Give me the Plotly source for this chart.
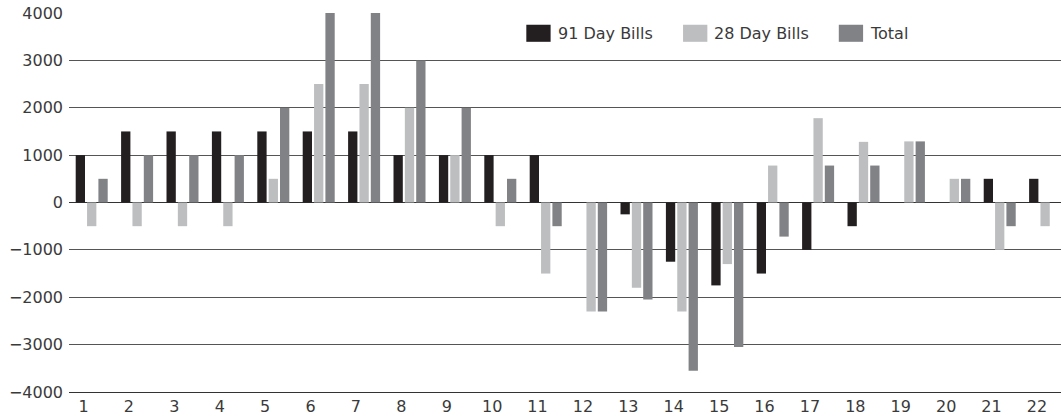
import plotly.graph_objects as go

periods = list(range(1, 23))
tick_labels = [str(p) for p in periods]
bills_91 = [1000, 1500, 1500, 1500, 1500, 1500, 1500, 1000, 1000, 1000, 1000,
            0, -250, -1250, -1750, -1500, -1000, -500, 0, 0, 500, 500]
bills_28 = [-500, -500, -500, -500, 500, 2500, 2500, 2000, 1000, -500, -1500,
            -2300, -1800, -2300, -1300, 780, 1780, 1280, 1290, 500, -1000, -500]
total = [500, 1000, 1000, 1000, 2000, 4000, 4000, 3000, 2000, 500, -500,
         -2300, -2050, -3550, -3050, -720, 780, 780, 1290, 500, -500, 0]

series_names = ["91 Day Bills", "28 Day Bills", "Total"]
series_values = [bills_91, bills_28, total]
series_colors = ["#231f20", "#bcbec0", "#808285"]

FONT = "DejaVu Sans"
TEXT = "#3a3a3a"

fig = go.Figure()
for name, vals, col in zip(series_names, series_values, series_colors):
    fig.add_trace(go.Bar(x=periods, y=vals, name=name, marker_color=col,
                         marker_line_width=0, showlegend=False))

# custom legend (larger swatches like the reference)
legend_x = [0.461, 0.619, 0.776]
for name, col, lx in zip(series_names, series_colors, legend_x):
    fig.add_shape(type="rect", xref="paper", yref="paper",
                  x0=lx, x1=lx + 0.0245, y0=0.924, y1=0.969,
                  fillcolor=col, line_width=0)
    fig.add_annotation(xref="paper", yref="paper", x=lx + 0.0295, y=0.946,
                       text=name, showarrow=False, xanchor="left", yanchor="middle",
                       font=dict(family=FONT, size=16, color=TEXT))

fig.update_layout(
    width=1061, height=417,
    margin=dict(l=69, r=0, t=13, b=25),
    paper_bgcolor="white", plot_bgcolor="white",
    barmode="group", bargap=0.25, bargroupgap=0.18,
    font=dict(family=FONT, size=16, color=TEXT),
)
fig.update_xaxes(
    range=[0.5, 22.35],
    tickmode="array", tickvals=[p - 0.18 for p in periods], ticktext=tick_labels,
    showgrid=False, zeroline=False, ticks="",
    showline=True, linecolor="#333333", linewidth=1,
    tickfont=dict(family=FONT, size=16, color=TEXT),
)
fig.update_yaxes(
    range=[-4000, 4000], tickmode="array",
    tickvals=[-4000, -3000, -2000, -1000, 0, 1000, 2000, 3000, 4000],
    showgrid=True, gridcolor="#555555", gridwidth=1,
    zeroline=True, zerolinecolor="#333333", zerolinewidth=1,
    ticks="", showline=False, ticklabelstandoff=5,
    tickfont=dict(family=FONT, size=16, color=TEXT),
)

fig.write_html("out.html",
               config={"displayModeBar": False},
               post_script="document.body.style.margin='0';document.body.style.overflow='hidden';")
